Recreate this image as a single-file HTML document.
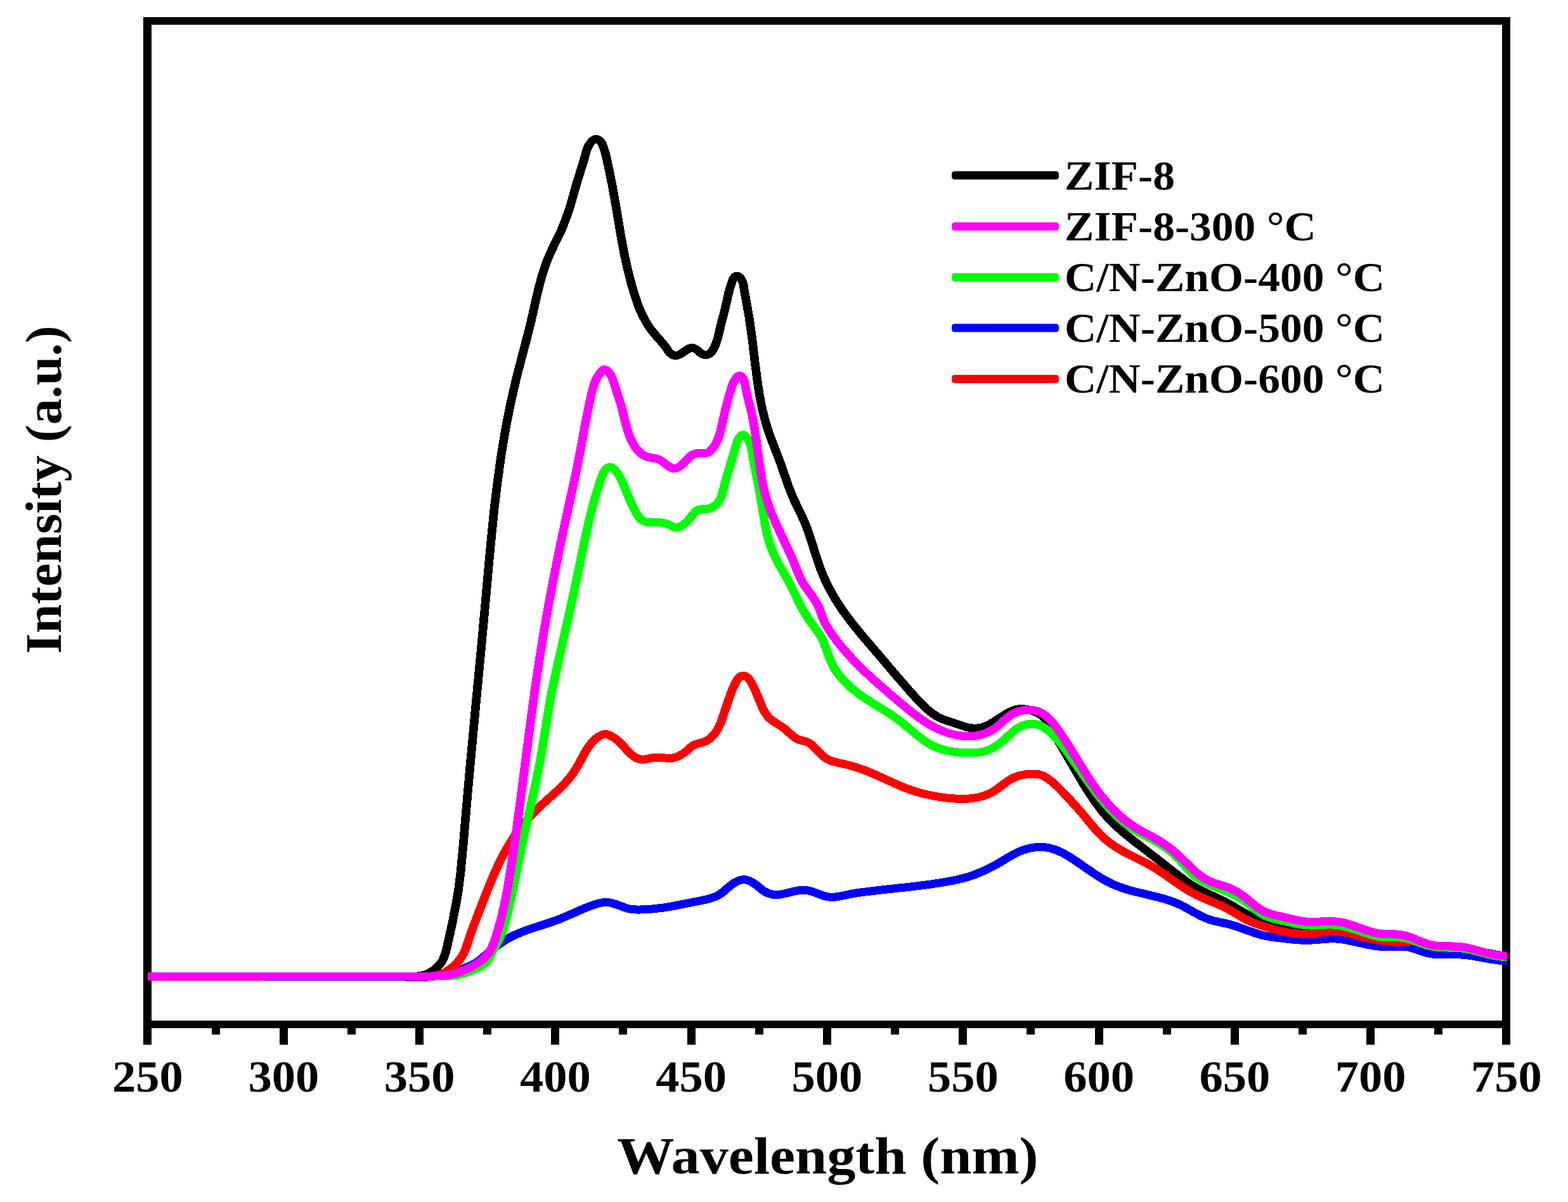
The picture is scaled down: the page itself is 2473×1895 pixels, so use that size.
<!DOCTYPE html>
<html lang="en"><head><meta charset="utf-8"><title>PL spectra</title>
<style>html,body{margin:0;padding:0;background:#fff;overflow:hidden}svg{display:block}text{font-family:"Liberation Serif",serif;font-weight:bold;fill:#000}</style></head><body>
<svg width="2473" height="1895" viewBox="0 0 2473 1895">
<rect width="2473" height="1895" fill="#fff"/>
<g shape-rendering="crispEdges" fill="#000">
<rect x="226" y="27" width="13" height="1620"/>
<rect x="2369" y="27" width="13" height="1620"/>
<rect x="226" y="27" width="2156" height="12"/>
<rect x="226" y="1609" width="2156" height="12"/>
<rect x="441" y="1615" width="13" height="32"/>
<rect x="655" y="1615" width="13" height="32"/>
<rect x="869" y="1615" width="13" height="32"/>
<rect x="1084" y="1615" width="13" height="32"/>
<rect x="1298" y="1615" width="13" height="32"/>
<rect x="1512" y="1615" width="13" height="32"/>
<rect x="1727" y="1615" width="13" height="32"/>
<rect x="1941" y="1615" width="13" height="32"/>
<rect x="2155" y="1615" width="13" height="32"/>
<rect x="334" y="1615" width="13" height="16"/>
<rect x="548" y="1615" width="13" height="16"/>
<rect x="762" y="1615" width="13" height="16"/>
<rect x="976" y="1615" width="13" height="16"/>
<rect x="1191" y="1615" width="13" height="16"/>
<rect x="1405" y="1615" width="13" height="16"/>
<rect x="1619" y="1615" width="13" height="16"/>
<rect x="1834" y="1615" width="13" height="16"/>
<rect x="2048" y="1615" width="13" height="16"/>
<rect x="2262" y="1615" width="13" height="16"/>
</g>
<g transform="scale(1.05385,1)" fill="none" stroke-width="13.0" stroke-linejoin="round" stroke-linecap="butt" shape-rendering="crispEdges">
<path stroke="#000000" d="M607.3 1539.6L616.8 1539.6 621.5 1539.4 626.2 1538.9 628.5 1538.5 630.8 1538.1 633.1 1537.5 635.4 1536.8 637.6 1536 639.8 1535.1 642 1534 644.2 1532.8 646.3 1531.4 648.4 1530 650.3 1528.5 652.2 1526.8 654.1 1525.1 655.8 1523.3 657.4 1521.4 658.9 1519.4 660.3 1517.3 661.6 1515.3 662.7 1513.1 663.7 1510.9 664.6 1508.7 665.5 1506.4 666.9 1501.7 668.1 1497 676.9 1455.6 682.8 1423.6 686.3 1401.4 689.5 1374.1 693.3 1331.8 696.7 1289.5 700.2 1247.1 703.8 1204.8 707.6 1162.5 711.3 1120.2 714.9 1080.4 718.5 1040.6 722 1000.7 725.5 960.9 728.9 921 732.3 881.2 735.9 841.3 740 799 744.9 756.9 750.5 714.8 757.2 672.9 765.1 631.3 773.7 592.3 784 551.2 793.5 512.5 801.9 473.4 806.8 451.5 810.5 437.1 814 425.1 817.1 415.7 820.6 406.4 825.4 395 831.5 381.4 837.9 368 840.9 361.2 845.2 349.6 850.9 333.1 853.8 323.6 863.5 287.5 873.4 254.2 877.3 239.5 878 237.1 878.8 234.7 879.7 232.4 880.7 230.2 881.8 228 883.2 225.9 884.7 224 886.4 222.2 888.4 220.6 890.5 219.5 892.8 219.3 895 220.1 897.2 221.5 899 223.3 900.4 225.4 901.5 227.5 902.4 229.8 903.9 234.6 906 241.7 908.3 251.4 916 290.6 923 332.4 929.6 374.4 934.9 403.8 940.1 428.2 945.5 450 949.6 464.4 952.6 474 955.8 483.3 958.5 490.2 961.5 497 964.7 503.6 967 507.9 969.5 512.2 972.1 516.3 974.9 520.3 979.4 526.2 990.5 539.6 993.5 543.5 996.4 547.4 1000.4 553.5 1001.8 555.5 1003.5 557.2 1005.4 558.8 1007.6 560 1009.9 560.6 1012.3 560.6 1014.6 560 1016.8 559 1018.9 557.8 1021 556.5 1026.8 552.3 1028.8 550.9 1031 549.7 1033.2 548.7 1035.4 548.4 1037.7 548.7 1040 549.7 1042.1 551 1044.2 552.6 1047.8 556 1049.6 557.5 1051.7 558.6 1053.9 559.2 1056.3 559.4 1058.7 559.1 1061 558.3 1063 556.9 1064.6 555.2 1066 553.2 1067.3 551 1068.4 548.8 1069.5 546.6 1070.5 544.3 1071.4 542 1072.9 537.4 1074.3 532.6 1079.8 508.3 1084.1 491.3 1090.4 462.2 1092.2 455 1094.4 447.8 1096 442.9 1096.9 440.6 1098.1 438.3 1099.6 436.5 1101.7 435.4 1104.1 435.3 1106.2 436.4 1108 438.1 1109.4 440.1 1110.5 442.3 1111.4 444.6 1112.1 447 1112.7 449.5 1114.6 462.1 1120.9 498.9 1125.6 533.5 1130.1 573.3 1134.1 605.6 1137.1 625.3 1139.8 640 1143 654.6 1146.1 666.6 1148.8 676.1 1153.5 690.3 1167.2 727.7 1180.5 767.8 1184.8 779.4 1188.6 788.6 1201 815.7 1203.9 822.5 1207.4 831.8 1212.1 845.9 1224.4 886.4 1228.4 898.1 1231.9 907.4 1235.8 916.5 1240 925.5 1244.5 934.3 1250.5 945.1 1256.9 955.7 1263.6 966 1273.5 980 1288.3 999.4 1314.5 1031.7 1340.5 1064 1363.9 1092.4 1375.3 1105.4 1382 1112.6 1387.2 1117.7 1390.8 1120.9 1394.6 1124 1398.4 1126.9 1402.4 1129.5 1404.4 1130.7 1406.5 1131.8 1408.6 1132.9 1410.8 1133.9 1413 1134.8 1417.6 1136.4 1426.7 1139.5 1440 1144.3 1444.5 1145.7 1446.7 1146.4 1449.1 1146.9 1451.4 1147.4 1453.8 1147.7 1456.2 1148 1458.7 1148.1 1461.1 1148.1 1463.5 1147.9 1465.8 1147.6 1468.1 1147.1 1470.4 1146.5 1472.6 1145.7 1474.8 1144.9 1476.9 1143.9 1479 1142.9 1483.2 1140.6 1487.3 1138 1503.5 1126.9 1507.6 1124.3 1509.7 1123.1 1511.8 1122 1513.9 1121 1516.1 1120.1 1518.3 1119.3 1520.5 1118.6 1522.8 1118.1 1525.1 1117.8 1527.4 1117.6 1529.8 1117.6 1532.2 1117.8 1534.7 1118.1 1537.1 1118.5 1539.5 1119 1541.9 1119.7 1544.2 1120.4 1546.5 1121.2 1548.7 1122.1 1550.8 1123 1552.8 1124.1 1554.8 1125.2 1556.6 1126.4 1558.4 1127.8 1560.1 1129.3 1561.8 1130.9 1563.3 1132.6 1564.9 1134.4 1566.3 1136.3 1567.7 1138.2 1570.4 1142.4 1572.9 1146.8 1584.6 1169.5 1604.9 1206 1621.7 1236.3 1630.6 1251.1 1637.2 1261.5 1644.2 1271.6 1650 1279.5 1656.1 1287 1660.9 1292.5 1665.9 1297.9 1672.8 1304.7 1681.8 1313 1700.4 1328.6 1732.3 1354.6 1763.9 1380.6 1773.5 1388.1 1779.3 1392.5 1785.3 1396.5 1791.5 1400.3 1799.9 1404.9 1829.9 1419.8 1836.2 1423.2 1844.5 1428.1 1858.8 1437.1 1865 1440.8 1869.2 1443 1875.6 1446.1 1882.2 1448.9 1888.9 1451.4 1895.7 1453.7 1904.8 1456.3 1914.1 1458.5 1925.8 1460.9 1935.2 1462.5 1942.3 1463.3 1949.4 1463.9 1954.1 1464 1958.9 1464 1966 1463.7 1985 1462 1989.8 1461.8 1994.5 1461.8 1999.2 1462 2003.8 1462.5 2008.5 1463.3 2013.1 1464.3 2020 1466.1 2040.8 1472.2 2047.7 1474 2057 1475.9 2066.3 1477.5 2075.7 1478.7 2087.5 1479.8 2108.9 1480.8 2113.7 1481.3 2116 1481.7 2118.3 1482.2 2120.6 1482.8 2122.9 1483.6 2127.3 1485.4 2134 1488.3 2136.2 1489.2 2138.4 1490 2140.7 1490.7 2143 1491.3 2145.3 1491.7 2147.6 1491.9 2150 1492.1 2154.7 1492.1 2164.3 1492 2169.1 1492.1 2173.8 1492.5 2180.9 1493.4 2201.9 1497.4 2239.2 1505.1 2253.2 1507.6 2255.5 1508.0"/>
<path stroke="#0000ff" d="M607.4 1540.6L628.8 1540.5 638.2 1540.2 645.3 1539.6 652.4 1538.8 657.1 1538 661.8 1537.1 666.4 1536 673.3 1534 689.3 1528.5 696.1 1526 700.4 1524.2 704.7 1522.2 708.9 1520 710.9 1518.7 712.9 1517.4 714.8 1516.1 718.6 1513.1 735 1498.3 742.4 1492.1 748.2 1487.7 754.1 1483.5 758.1 1480.9 762.2 1478.4 766.4 1476.1 772.8 1473 779.3 1470.1 788.2 1466.5 824.5 1453.9 833.5 1450.6 844.5 1445.9 874.8 1432 883.7 1428.3 890.5 1425.8 895.1 1424.3 897.4 1423.7 899.7 1423.2 902 1422.8 904.4 1422.5 906.7 1422.4 909 1422.5 911.3 1422.8 913.7 1423.2 916 1423.8 918.3 1424.5 922.8 1426 934 1430.4 938.5 1431.9 940.8 1432.6 943.1 1433.1 945.5 1433.5 947.8 1433.8 950.2 1433.9 954.9 1434.1 962.1 1433.9 971.6 1433.4 981 1432.5 992.8 1431 1009.2 1428.1 1046.7 1420.3 1056.1 1418.2 1060.7 1417 1065.1 1415.6 1069.5 1414 1071.6 1413.1 1073.6 1412 1075.6 1410.9 1077.6 1409.7 1079.5 1408.4 1081.3 1407 1084.8 1403.8 1090.2 1398.7 1094.1 1395.4 1096.2 1393.8 1098.3 1392.3 1100.4 1391 1102.6 1389.7 1104.8 1388.7 1107 1387.9 1109.3 1387.2 1111.5 1386.9 1113.8 1386.8 1116 1387 1118.2 1387.5 1120.4 1388.2 1122.6 1389.2 1124.8 1390.3 1126.9 1391.7 1129 1393.1 1131 1394.6 1135 1397.9 1140.7 1402.8 1142.6 1404.3 1144.6 1405.6 1146.6 1406.8 1148.7 1407.8 1150.8 1408.7 1153 1409.4 1155.2 1409.9 1157.4 1410.3 1159.7 1410.5 1162 1410.6 1164.4 1410.5 1166.7 1410.2 1169.1 1409.9 1173.8 1408.9 1188 1405.3 1192.7 1404.3 1195 1403.9 1197.4 1403.6 1199.7 1403.4 1202 1403.3 1204.4 1403.4 1206.7 1403.6 1209 1403.9 1211.3 1404.4 1213.6 1405 1215.8 1405.7 1220.4 1407.4 1229.4 1411.1 1231.6 1411.9 1233.9 1412.6 1236.2 1413.2 1238.4 1413.7 1240.7 1414 1243.1 1414.2 1245.4 1414.2 1247.7 1414.2 1250.1 1414 1254.8 1413.4 1259.6 1412.5 1273.8 1409.3 1285.6 1407.2 1325.6 1402.2 1363.3 1398 1394 1393.9 1415.1 1390.4 1429.1 1387.6 1438.4 1385.4 1445.2 1383.5 1452 1381.3 1458.7 1378.8 1465.4 1376 1474.1 1372 1482.7 1367.6 1491.1 1362.9 1513.6 1348.9 1517.7 1346.5 1521.9 1344.2 1526.3 1342.2 1530.7 1340.4 1535.3 1338.8 1539.9 1337.5 1544.6 1336.5 1549.3 1335.8 1551.7 1335.6 1554 1335.5 1556.4 1335.4 1558.8 1335.5 1561.1 1335.6 1563.5 1335.8 1565.8 1336.1 1568.1 1336.5 1570.4 1336.9 1572.7 1337.5 1575 1338.2 1579.5 1339.7 1583.9 1341.6 1588.2 1343.7 1592.5 1346 1598.8 1349.7 1607 1355.2 1638.3 1377.9 1646.2 1383.2 1652.3 1387 1658.5 1390.5 1664.9 1393.8 1671.5 1396.7 1678.2 1399.4 1685 1401.8 1694.2 1404.6 1731.2 1414 1740.4 1416.5 1747.1 1418.7 1753.8 1421 1758.2 1422.8 1762.5 1424.7 1766.8 1426.8 1773.2 1430.2 1791.9 1441.1 1798.3 1444.5 1802.6 1446.6 1806.9 1448.5 1811.4 1450.2 1815.9 1451.6 1822.9 1453.3 1836.9 1456.4 1841.5 1457.7 1848.4 1459.8 1877.5 1470.7 1884.2 1472.9 1888.8 1474.3 1893.4 1475.4 1898 1476.4 1905.1 1477.6 1933.5 1481 1943 1481.8 1950.1 1482.2 1957.2 1482.3 1964.3 1482 1985.7 1480.2 1990.5 1479.9 1995.2 1479.9 1999.9 1480 2004.6 1480.4 2009.3 1481 2016.3 1482.3 2046.6 1489.2 2055.9 1491 2063 1492 2067.7 1492.5 2072.4 1492.9 2077.2 1493 2081.9 1493 2093.9 1492.4 2098.7 1492.3 2101 1492.4 2103.4 1492.5 2105.7 1492.8 2108 1493.2 2110.3 1493.7 2112.6 1494.3 2117.1 1495.8 2128.3 1500.1 2132.9 1501.6 2135.2 1502.3 2137.5 1502.9 2142.1 1503.8 2146.9 1504.4 2151.6 1504.8 2158.8 1505 2180.2 1504.8 2185 1504.9 2189.7 1505.2 2194.4 1505.6 2201.5 1506.6 2231.9 1512.4 2239 1513.5 2243.7 1514.1 2248.4 1514.5 2253.2 1514.7 2255.5 1514.7"/>
<path stroke="#ff0000" d="M607.4 1539.7L638.2 1539.7 643 1539.5 645.3 1539.3 647.6 1539 649.9 1538.6 652.2 1538.1 654.5 1537.5 656.8 1536.8 659 1536 661.2 1535.1 663.3 1534.1 665.5 1533 667.6 1531.8 669.6 1530.5 671.6 1529.1 673.6 1527.7 675.5 1526.2 677.4 1524.6 679.2 1522.9 680.9 1521.2 682.6 1519.4 684.3 1517.6 685.8 1515.7 687.4 1513.7 688.8 1511.7 690.2 1509.6 691.4 1507.5 692.7 1505.3 693.8 1503.1 694.8 1500.9 696.7 1496.3 698.4 1491.6 705.8 1467.8 720.2 1428.2 734.2 1390.9 741.8 1372.5 747.8 1358.9 753.2 1347.8 758.9 1336.9 765.1 1326.2 770.2 1317.8 775.7 1309.7 781.4 1301.7 787.4 1294 793.7 1286.5 800.2 1279.3 808.8 1270.6 833.6 1247.1 840.5 1240.1 845.4 1234.8 850.1 1229.3 853.1 1225.4 856 1221.5 858.7 1217.5 861.3 1213.3 864.9 1206.9 874 1189.1 876.4 1184.7 878.9 1180.4 881.6 1176.3 884.5 1172.3 886.1 1170.4 887.7 1168.5 889.4 1166.7 891.2 1165 893.1 1163.4 895 1161.9 897 1160.5 899.2 1159.3 901.3 1158.3 903.6 1157.7 905.9 1157.5 908.2 1157.8 910.5 1158.5 912.8 1159.5 915 1160.7 917.1 1161.9 919.2 1163.3 921.1 1164.8 923 1166.3 924.9 1168 928.3 1171.3 933.2 1176.7 939.5 1183.9 942.9 1187.5 944.7 1189.3 946.5 1190.9 948.4 1192.4 950.4 1193.8 952.6 1195 954.8 1196 957.1 1196.7 959.4 1197.1 961.7 1197.3 964.1 1197.2 966.4 1196.9 975.9 1194.9 978.2 1194.6 980.6 1194.3 982.9 1194.2 985.3 1194.1 987.7 1194.2 992.4 1194.7 997.2 1195.2 999.6 1195.4 1001.9 1195.5 1004.3 1195.4 1006.6 1195.1 1008.9 1194.6 1011.2 1193.9 1013.4 1193 1015.6 1192 1017.8 1190.9 1019.9 1189.6 1021.9 1188.2 1023.9 1186.8 1025.8 1185.2 1027.7 1183.6 1032.9 1178.7 1034.7 1177.2 1036.5 1175.8 1038.6 1174.6 1040.8 1173.6 1043.1 1172.8 1050.4 1170.8 1052.7 1170 1055 1169 1057.1 1168 1059.1 1166.8 1061 1165.4 1062.8 1164 1064.6 1162.4 1066.2 1160.8 1067.8 1159 1069.2 1157.1 1070.6 1155.2 1071.9 1153.1 1073.2 1151 1074.4 1148.9 1076.5 1144.4 1078.5 1139.7 1080.3 1134.9 1092.4 1097 1094.9 1090.2 1097.6 1083.3 1099.7 1078.7 1102 1074 1103.3 1071.7 1104.8 1069.6 1106.5 1067.7 1108.4 1066.3 1110.5 1065.5 1112.7 1065.2 1115 1065.8 1117.1 1066.8 1119 1068.4 1120.7 1070.3 1122.3 1072.4 1123.6 1074.6 1126.1 1079.2 1128.2 1083.7 1131.2 1090.4 1139.1 1110.9 1141 1115.6 1143.2 1120.1 1144.4 1122.3 1145.6 1124.5 1146.9 1126.5 1148.3 1128.5 1149.8 1130.4 1151.4 1132.1 1153.2 1133.7 1155 1135.3 1156.8 1136.7 1160.7 1139.5 1168.8 1144.8 1172.7 1147.7 1174.6 1149.2 1178.2 1152.5 1183.5 1157.6 1187.1 1160.8 1188.9 1162.3 1190.9 1163.7 1192.9 1164.9 1195 1165.9 1197.3 1166.8 1199.6 1167.4 1204.4 1168.6 1206.7 1169.3 1208.9 1170.2 1211 1171.3 1212.9 1172.7 1214.8 1174.2 1216.6 1175.8 1220 1179.3 1228.5 1188.6 1230.2 1190.4 1232 1192.1 1233.8 1193.7 1235.7 1195.1 1237.7 1196.4 1239.7 1197.6 1241.8 1198.6 1244 1199.5 1246.2 1200.3 1250.7 1201.6 1264.7 1204.8 1271.5 1206.6 1280.6 1209.4 1289.5 1212.6 1298.3 1216.1 1311.5 1222 1344.2 1237.6 1353 1241.5 1361.9 1245 1370.9 1248.1 1380 1250.8 1389.2 1253.1 1398.4 1255.1 1407.8 1256.7 1417.2 1258 1426.8 1258.9 1434 1259.3 1441.1 1259.4 1445.9 1259.3 1450.6 1259 1455.3 1258.5 1460 1257.8 1464.5 1256.8 1469.1 1255.6 1473.5 1254.2 1477.9 1252.4 1480 1251.5 1482.1 1250.4 1484.2 1249.3 1486.3 1248 1488.3 1246.7 1492.3 1243.9 1506 1233.1 1510 1230.2 1512 1228.9 1514.1 1227.6 1516.2 1226.5 1518.3 1225.5 1520.5 1224.6 1522.7 1223.8 1524.9 1223 1527.2 1222.4 1529.5 1221.9 1534.2 1221 1538.9 1220.4 1543.7 1220.1 1546.1 1220 1548.5 1220.1 1550.9 1220.2 1553.2 1220.5 1555.5 1221.1 1557.8 1221.8 1560 1222.7 1562.2 1223.7 1564.3 1224.9 1566.3 1226.2 1568.3 1227.6 1572.2 1230.6 1575.9 1233.8 1581.1 1238.8 1589.5 1247.6 1607.4 1267.7 1618.4 1280.8 1636.6 1304 1641.3 1309.7 1646.1 1315.2 1649.5 1318.7 1653 1322 1656.6 1325.2 1660.3 1328.3 1666.1 1332.7 1672 1336.7 1678.1 1340.6 1688.5 1346.5 1716.1 1361.1 1724.4 1366 1730.6 1369.8 1738.5 1375.3 1765.9 1395.5 1773.8 1401 1779.9 1404.9 1786.1 1408.5 1792.4 1411.9 1803.2 1416.9 1825.1 1426.7 1831.5 1429.8 1837.9 1433.2 1846.2 1438.2 1858.5 1446 1862.6 1448.4 1866.8 1450.6 1871 1452.7 1877.5 1455.4 1884.1 1457.9 1899.9 1463.1 1911.4 1466.4 1920.7 1468.6 1927.8 1470 1934.9 1471.2 1942 1472 1946.7 1472.3 1951.5 1472.5 1956.2 1472.4 1960.9 1472.2 1968.1 1471.5 1984.6 1469.3 1989.3 1468.9 1994.1 1468.6 1998.8 1468.6 2003.5 1468.9 2008.2 1469.5 2012.9 1470.3 2019.9 1471.9 2045.2 1478.9 2052.1 1480.6 2059.1 1481.8 2087.5 1485.4 2092.2 1485.8 2094.6 1485.9 2096.9 1485.9 2099.3 1485.8 2101.7 1485.6 2104.1 1485.2 2111.2 1483.8 2113.6 1483.4 2115.9 1483 2118.2 1482.9 2120.5 1483 2122.8 1483.4 2125 1484 2127.3 1484.7 2129.5 1485.7 2136.1 1488.7 2138.4 1489.7 2140.6 1490.5 2142.9 1491.2 2145.2 1491.8 2147.6 1492.1 2149.9 1492.4 2152.3 1492.5 2157.1 1492.5 2166.6 1492.3 2171.4 1492.5 2176.2 1492.8 2183.2 1493.6 2190.3 1494.7 2199.6 1496.6 2232.1 1504.3 2241.4 1506.2 2248.5 1507.3 2253.2 1507.8 2255.5 1508.0"/>
<path stroke="#00ff00" d="M607.4 1539L645.4 1539 664.4 1538.9 671.5 1538.7 676.2 1538.3 680.9 1537.8 685.5 1537 690.1 1535.9 694.7 1534.5 699.2 1532.9 703.7 1531.1 710.4 1528.1 716.9 1524.8 719 1523.7 721.1 1522.5 723.1 1521.2 725 1519.7 726.7 1518.2 728.3 1516.4 729.7 1514.5 731 1512.4 732.2 1510.3 745.6 1483.5 748.6 1476.9 750.5 1472.3 752.2 1467.7 754.4 1460.6 756.5 1453.4 760 1438.8 768.1 1399.6 776.2 1358 784.5 1316.4 792.7 1277.4 801 1238.3 808.5 1199 814.8 1159.6 820.7 1120 825.8 1090.5 833.8 1051.4 842.2 1012.3 850.6 973.3 858.7 934.2 866.6 895 874.2 855.8 881.9 819.2 887.7 794.9 893 775.7 898.1 759 901.4 749.6 902.2 747.2 903.2 745 904.4 742.8 905.9 740.7 907.6 738.9 909.6 737.3 911.8 736.4 914 736.4 916.1 737.3 918.1 738.9 919.9 740.7 921.6 742.7 923.1 744.7 924.5 746.7 925.8 748.8 928.2 753.1 930.4 757.6 932.4 762.1 942.3 787.3 946.2 796.3 950.5 805.5 952.9 810.1 954.2 812.3 955.6 814.4 957 816.4 958.6 818.2 960.3 819.7 962.2 821.1 964.2 822.1 966.3 822.9 968.6 823.3 971 823.6 973.5 823.7 983.3 823.6 988.1 823.8 990.4 824.1 992.7 824.4 994.9 824.9 997.2 825.6 999.4 826.4 1001.6 827.4 1005.9 829.9 1008.1 831 1010.3 831.8 1012.6 832 1014.8 831.5 1017.1 830.6 1019.3 829.5 1021.4 828.1 1023.4 826.5 1025.3 824.9 1027 823.3 1028.7 821.6 1030.3 819.8 1031.8 817.9 1034.8 814 1037.8 809.8 1039.4 807.8 1041.2 806.1 1043 804.7 1045.1 803.7 1047.3 803.1 1049.7 802.9 1054.7 802.8 1057.1 802.6 1059.5 802.2 1061.8 801.6 1064 800.7 1066.1 799.7 1068.1 798.4 1070 797 1071.7 795.4 1073.3 793.7 1074.8 791.8 1076.1 789.9 1077.2 787.8 1078.3 785.6 1079.2 783.3 1080.1 781 1080.8 778.6 1082.2 773.6 1085.7 758.6 1097.1 718.3 1101.7 701.3 1102.4 698.9 1103.2 696.4 1104.1 694 1105.3 691.7 1106.7 689.5 1108.5 687.5 1110.4 686 1112.5 685.4 1114.4 686.1 1116.1 687.7 1117.7 689.8 1119.1 692.1 1120.3 694.4 1121.4 696.7 1122.3 699.1 1123.1 701.5 1123.8 703.9 1124.3 706.4 1125.3 711.3 1128 728.6 1136 770 1142.2 809.7 1145 827.1 1146.9 836.9 1149.1 846.6 1151 853.7 1153.2 860.8 1155.7 867.8 1158.5 874.6 1161.5 881.3 1164.8 888 1179 914.1 1182.4 920.7 1196.8 952.2 1200.2 958.9 1203.8 965.4 1207.5 971.8 1212.9 980.2 1224 996.1 1226.6 1000.1 1227.9 1002.2 1229 1004.3 1231.1 1008.7 1233 1013.2 1235.5 1020.2 1240.3 1034.5 1242 1039.2 1243.9 1043.8 1245.9 1048.3 1248.2 1052.7 1250.7 1056.9 1253.4 1061 1256.3 1065 1259.3 1068.9 1262.5 1072.6 1265.8 1076.3 1269.2 1079.8 1274.6 1084.9 1280.2 1089.7 1285.9 1094.3 1293.7 1100.1 1309.6 1110.8 1329.5 1123.8 1337.4 1129.4 1343.2 1133.7 1350.8 1139.9 1373.3 1159.6 1379 1164.2 1384.8 1168.6 1388.8 1171.3 1392.8 1173.8 1396.9 1176.1 1401.2 1178.1 1405.5 1179.9 1409.9 1181.4 1414.4 1182.7 1418.9 1183.8 1423.5 1184.6 1428.2 1185.3 1435.3 1186.1 1442.5 1186.5 1452.1 1186.6 1459.3 1186.5 1464 1186.1 1466.4 1185.9 1468.7 1185.5 1471 1185.1 1473.3 1184.5 1475.5 1183.9 1477.7 1183.1 1479.9 1182.2 1482 1181.3 1484.1 1180.2 1486.2 1179.1 1488.2 1177.8 1492.2 1175.1 1496.1 1172.1 1499.8 1168.9 1505.2 1163.8 1512.3 1156.9 1515.9 1153.6 1519.6 1150.5 1521.5 1149 1523.5 1147.7 1525.5 1146.4 1527.6 1145.3 1529.7 1144.3 1531.9 1143.4 1534.2 1142.7 1536.5 1142.1 1538.9 1141.6 1541.3 1141.3 1543.7 1141.2 1546.1 1141.2 1548.4 1141.4 1550.8 1141.8 1553.1 1142.4 1555.4 1143.2 1557.6 1144.1 1559.7 1145.2 1561.8 1146.5 1563.8 1147.9 1565.8 1149.4 1569.7 1152.5 1573.3 1155.8 1576.7 1159.3 1580.1 1162.9 1584.8 1168.4 1589.2 1174.2 1599.1 1188.1 1622.2 1222.9 1636 1243.3 1644.7 1255.3 1652.2 1265 1658.5 1272.5 1665 1279.8 1670 1285 1675.2 1290.1 1680.6 1295 1686.1 1299.6 1691.9 1304.1 1697.8 1308.2 1701.8 1310.8 1708.1 1314.5 1725.1 1323.8 1731.3 1327.4 1737.4 1331.3 1743.3 1335.5 1749 1339.9 1752.7 1343 1756.3 1346.3 1759.8 1349.7 1763.2 1353.3 1766.5 1357 1777.5 1370.5 1780.8 1374.2 1784.2 1377.7 1786 1379.4 1787.8 1380.9 1789.7 1382.4 1793.5 1385.2 1797.5 1387.8 1801.6 1390.2 1805.9 1392.3 1812.4 1395.4 1834.6 1404.8 1841.1 1407.7 1847.5 1411 1851.7 1413.3 1855.7 1415.8 1859.7 1418.5 1863.6 1421.3 1867.5 1424.3 1880.6 1435.3 1884.5 1438.3 1886.4 1439.7 1888.4 1441 1890.5 1442.2 1892.6 1443.3 1894.7 1444.3 1896.9 1445.3 1899.1 1446.1 1903.6 1447.6 1910.6 1449.5 1938.7 1456.1 1945.6 1457.5 1950.3 1458.2 1955 1458.7 1959.7 1459 1964.4 1459.1 1985.8 1458 1990.6 1457.9 1995.3 1458 2000 1458.5 2004.7 1459.2 2009.4 1460.1 2014 1461.2 2020.9 1463.1 2032.3 1466.9 2048.2 1472.5 2052.7 1474 2057.2 1475.3 2061.8 1476.3 2064.1 1476.7 2066.4 1477.1 2071.1 1477.5 2075.9 1477.6 2090.3 1477.7 2095.1 1478 2097.4 1478.2 2099.8 1478.6 2102.1 1479 2106.7 1480.1 2111.3 1481.4 2131.5 1488.8 2136 1490.2 2140.6 1491.5 2145.2 1492.4 2149.9 1493.1 2154.6 1493.5 2164.1 1493.9 2178.4 1494.3 2183.1 1494.6 2187.9 1495 2192.6 1495.7 2197.2 1496.6 2204.2 1498.2 2227.3 1504.5 2234.3 1506.1 2239 1507 2243.7 1507.7 2248.4 1508.2 2253.2 1508.5 2255.5 1508.5"/>
<path stroke="#ff00ff" d="M607.3 1539L645.3 1539 654.7 1538.8 661.8 1538.3 666.5 1537.8 671.1 1537.1 675.7 1536.1 680.3 1534.9 684.9 1533.5 689.4 1531.8 693.8 1529.9 698.3 1527.9 702.7 1525.7 707 1523.3 711.2 1520.8 715.3 1518 719.2 1515.1 721.1 1513.5 722.9 1511.9 724.6 1510.2 726.3 1508.5 727.9 1506.7 729.4 1504.8 730.8 1502.9 732.1 1500.9 733.3 1498.8 734.5 1496.7 735.6 1494.5 737.5 1490 739.3 1485.4 741.6 1478.2 745.9 1463.8 750.2 1446.8 755.1 1424.9 760.1 1397.9 766.5 1356 772.2 1314 777.3 1274.3 782.2 1234.6 787 1194.9 791.9 1155.2 796.9 1115.5 802.1 1075.9 808.1 1033.9 814.6 992 821.6 950.2 829.1 908.5 837 866.8 844.9 827.6 853 788.5 861.2 749.4 869 707.8 876.2 666.1 882.3 634.1 885.5 619.2 887.3 611.9 888.8 607.1 890.4 602.4 891.3 600.1 892.3 597.8 893.4 595.6 894.6 593.5 895.8 591.4 897.2 589.4 898.7 587.4 900.2 585.5 902 583.7 903.8 582.6 906 582.8 908.2 584.1 910.2 585.9 911.9 587.8 913.3 589.8 914.5 591.9 915.5 594.2 916.4 596.4 927.5 632 930.2 641.5 937.1 670.8 939.1 678 940.5 682.7 942.1 687.4 943.9 692 946 696.5 948.3 700.9 949.5 703.1 950.8 705.2 952.3 707.2 953.7 709.2 955.3 711 957 712.8 958.7 714.5 960.6 716 962.6 717.3 964.6 718.5 966.8 719.5 969 720.4 971.4 721 978.8 722.3 981.1 722.7 983.4 723.4 985.5 724.2 987.5 725.1 989.4 726.3 991.3 727.6 993.2 729 999.1 733.9 1001.2 735.5 1003.4 736.8 1005.5 737.9 1007.8 738.5 1010 738.6 1012.2 738.1 1014.4 737.2 1016.6 735.9 1018.7 734.3 1020.8 732.5 1022.7 730.6 1026.1 726.8 1029.2 723.1 1030.8 721.4 1032.4 719.9 1034.1 718.5 1036 717.2 1038 716.2 1040.3 715.4 1042.6 714.8 1045 714.5 1047.5 714.4 1052.4 714.7 1054.7 714.7 1057 714.3 1059.1 713.6 1061.2 712.5 1063 711 1064.8 709.3 1066.4 707.3 1068 705.2 1069.4 702.9 1070.7 700.6 1071.9 698.3 1072.9 695.9 1073.9 693.6 1075.6 689 1077.1 684.3 1078.3 679.6 1085.5 645.8 1089.8 628.7 1093.8 614.3 1096 607.4 1096.8 605.2 1097.7 602.9 1098.8 600.6 1100.1 598.3 1101.8 596.1 1103.6 594 1105.7 592.7 1107.7 592.5 1109.6 593.6 1111.3 595.6 1112.7 598 1113.7 600.4 1114.4 602.9 1114.9 605.3 1116.6 615.1 1118.7 624.8 1124.4 648.9 1126.9 661.1 1129.7 678.4 1134.9 718.2 1138.2 743.1 1140.6 757.9 1143 770.1 1145.3 779.7 1147.9 789.2 1150.9 798.6 1155.1 810.3 1160.7 824 1176.8 860.4 1184.8 878.6 1190.3 892.4 1194.7 904 1197.5 910.8 1199.7 915.3 1202 919.6 1204.5 923.8 1218.4 944.4 1221 948.6 1223.3 952.9 1224.4 955.1 1225.5 957.3 1226.4 959.6 1228.1 964.2 1230.3 971.3 1232 976 1233.9 980.5 1236 985 1238.4 989.3 1240.9 993.6 1245 999.8 1252 1009.9 1259.4 1019.7 1268.7 1031 1278.3 1042 1289.9 1054.4 1305.5 1069.8 1334.1 1096.2 1359.8 1118.8 1369.2 1126.5 1376.8 1132.4 1382.6 1136.7 1388.6 1140.6 1394.7 1144.4 1400.9 1147.8 1405.1 1149.9 1409.4 1151.8 1413.7 1153.6 1418.2 1155.2 1422.7 1156.7 1427.3 1157.9 1432 1158.9 1436.7 1159.7 1441.5 1160.3 1446.3 1160.6 1451.1 1160.7 1455.9 1160.4 1460.6 1159.9 1462.9 1159.5 1465.3 1159 1467.6 1158.4 1469.8 1157.8 1472.1 1157.1 1474.3 1156.3 1476.5 1155.4 1478.6 1154.4 1480.8 1153.4 1482.8 1152.2 1484.9 1151 1486.8 1149.7 1488.8 1148.3 1490.7 1146.8 1494.3 1143.7 1505 1133.6 1508.7 1130.5 1510.6 1129 1512.6 1127.5 1514.6 1126.2 1516.7 1125 1518.9 1123.9 1521.1 1122.9 1523.4 1122 1525.7 1121.2 1528.1 1120.6 1530.4 1120 1532.8 1119.6 1535.2 1119.3 1537.6 1119.1 1540 1119.1 1542.4 1119.2 1544.8 1119.4 1547.1 1119.8 1549.4 1120.3 1551.6 1120.9 1553.8 1121.6 1555.9 1122.6 1558 1123.6 1560 1124.8 1562 1126.1 1563.8 1127.5 1565.7 1129 1567.5 1130.6 1569.2 1132.3 1572.6 1136 1575.8 1139.8 1580.3 1145.9 1587.5 1156.4 1596.8 1171.2 1617.8 1207.3 1629 1226.3 1636.9 1238.6 1643.8 1248.7 1649.7 1256.6 1655.8 1264.3 1662.2 1271.8 1667.1 1277.2 1672.3 1282.4 1677.6 1287.4 1683 1292.2 1688.6 1296.8 1694.4 1301.1 1700.4 1305.2 1706.5 1309 1727.5 1320.9 1733.6 1324.6 1739.6 1328.6 1745.5 1332.9 1751.1 1337.3 1756.7 1342 1762.1 1346.9 1769 1353.8 1782.7 1367.9 1787.9 1373 1791.5 1376.3 1795.1 1379.4 1798.9 1382.3 1802.8 1385 1806.9 1387.4 1808.9 1388.5 1811.1 1389.6 1813.3 1390.5 1817.8 1392.3 1834 1397.5 1838.5 1399.2 1842.9 1401.2 1847.1 1403.4 1851.2 1405.9 1855.2 1408.5 1859.1 1411.4 1864.8 1415.9 1877.8 1427.1 1881.6 1430.2 1885.5 1433 1887.5 1434.3 1889.5 1435.6 1891.6 1436.7 1893.7 1437.8 1895.9 1438.7 1898.1 1439.6 1902.5 1441.1 1907.1 1442.4 1939.8 1450.5 1946.8 1451.9 1951.4 1452.6 1956.1 1453.2 1960.8 1453.5 1965.5 1453.5 1986.9 1452.5 1991.7 1452.4 1996.4 1452.6 2001.1 1453.1 2005.8 1453.8 2010.5 1454.7 2015.1 1455.9 2019.7 1457.3 2028.7 1460.5 2044.4 1466.4 2051.2 1468.6 2055.8 1469.9 2060.4 1471 2065 1471.8 2069.7 1472.3 2074.5 1472.6 2088.8 1472.9 2093.5 1473.3 2095.9 1473.5 2098.2 1473.9 2100.5 1474.4 2102.8 1474.9 2107.3 1476.3 2111.8 1477.9 2129.5 1485.5 2133.9 1487.2 2138.4 1488.8 2140.7 1489.4 2143 1489.9 2145.3 1490.4 2149.9 1491.1 2154.7 1491.5 2161.8 1491.8 2178.5 1492.1 2183.3 1492.4 2188 1492.9 2192.7 1493.6 2197.4 1494.6 2204.3 1496.3 2227.3 1503 2234.3 1504.7 2238.9 1505.7 2243.6 1506.4 2248.3 1506.9 2250.7 1507 2253.1 1507 2255.5 1507.0"/>
</g>
<g shape-rendering="crispEdges">
<rect x="233" y="1534" width="184" height="12" fill="#f00"/>
<rect x="417" y="1534" width="225" height="12" fill="#00f"/>
<rect x="233" y="1533" width="409" height="12" fill="#f0f"/>
</g>
<g>
<rect x="1501" y="270" width="169" height="13" rx="4.5" fill="#000000"/>
<rect x="1501" y="350.6" width="169" height="13" rx="4.5" fill="#ff00ff"/>
<rect x="1501" y="430.6" width="169" height="13" rx="4.5" fill="#00ff00"/>
<rect x="1501" y="510.5" width="169" height="13" rx="4.5" fill="#0000ff"/>
<rect x="1501" y="591" width="169" height="13" rx="4.5" fill="#ff0000"/>
</g>
<text transform="translate(1679.1 298.8) scale(1.060 1)" font-size="65.6">ZIF-8</text>
<text transform="translate(1679.1 379.0) scale(1.060 1)" font-size="65.6">ZIF-8-300 °C</text>
<text transform="translate(1679.1 459.1) scale(1.060 1)" font-size="65.6">C/N-ZnO-400 °C</text>
<text transform="translate(1679.1 539.2) scale(1.060 1)" font-size="65.6">C/N-ZnO-500 °C</text>
<text transform="translate(1679.1 619.3) scale(1.060 1)" font-size="65.6">C/N-ZnO-600 °C</text>
<text transform="translate(177.1 1720.7) scale(1.080 1)" font-size="69">250</text>
<text transform="translate(391.4 1720.7) scale(1.080 1)" font-size="69">300</text>
<text transform="translate(605.7 1720.7) scale(1.080 1)" font-size="69">350</text>
<text transform="translate(820.0 1720.7) scale(1.080 1)" font-size="69">400</text>
<text transform="translate(1034.3 1720.7) scale(1.080 1)" font-size="69">450</text>
<text transform="translate(1248.6 1720.7) scale(1.080 1)" font-size="69">500</text>
<text transform="translate(1462.9 1720.7) scale(1.080 1)" font-size="69">550</text>
<text transform="translate(1677.2 1720.7) scale(1.080 1)" font-size="69">600</text>
<text transform="translate(1891.5 1720.7) scale(1.080 1)" font-size="69">650</text>
<text transform="translate(2105.8 1720.7) scale(1.080 1)" font-size="69">700</text>
<text transform="translate(2320.1 1720.7) scale(1.080 1)" font-size="69">750</text>
<text transform="translate(973.3 1850.3) scale(1.081 1)" font-size="83.5">Wavelength (nm)</text>
<text transform="translate(96.3 772.0) rotate(-90) scale(1.017 1)" font-size="81.4" text-anchor="middle">Intensity (a.u.)</text>
</svg></body></html>
